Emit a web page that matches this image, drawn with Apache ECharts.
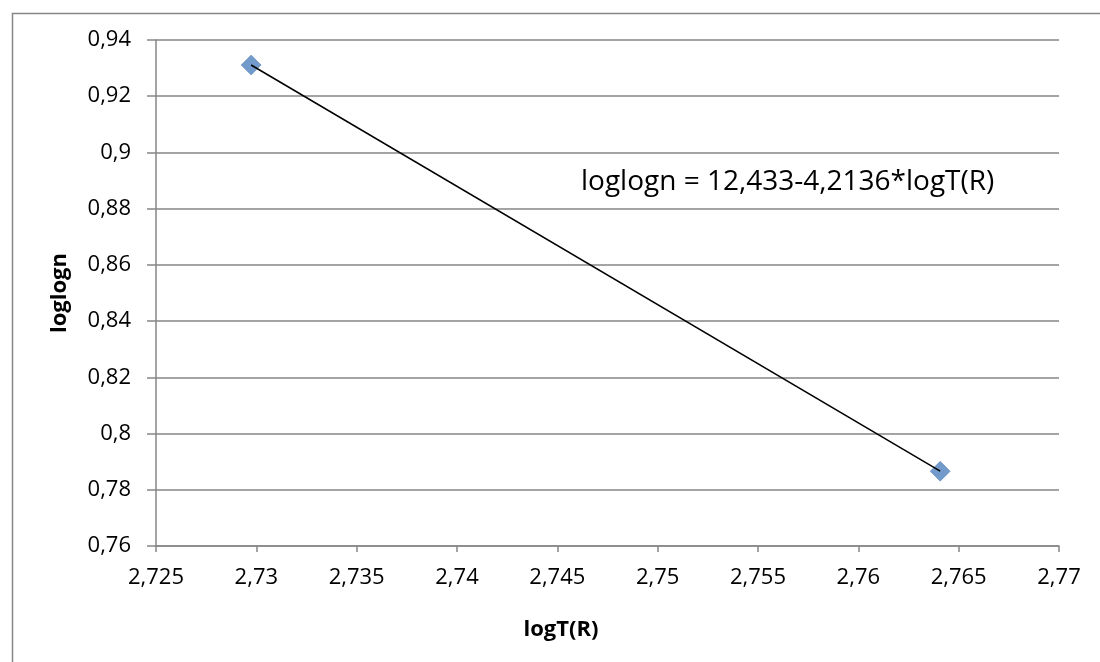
<!DOCTYPE html>
<html>
<head>
<meta charset="utf-8">
<script src="https://cdn.jsdelivr.net/npm/echarts@6/dist/echarts.min.js"></script>
<style>
html,body{margin:0;padding:0;background:#fff;}
#chart{width:1100px;height:662px;}
</style>
</head>
<body>
<div id="chart"></div>
<script>
var xValues = [2.72974, 2.76408];
var yValues = [0.9311, 0.7866];
var xTicks = { min: 2.725, max: 2.77, step: 0.005 };
var yTicks = { min: 0.76, max: 0.94, step: 0.02 };
var xTitle = 'logT(R)';
var yTitle = 'loglogn';
var equation = 'loglogn = 12,433-4,2136*logT(R)';

var pts = xValues.map(function (x, i) { return [x, yValues[i]]; });
function fmt(v) { return String(parseFloat(v.toFixed(4))).replace('.', ','); }
var FONT = 'Open Sans';
var chart = echarts.init(document.getElementById('chart'));
chart.setOption({
  animation: false,
  backgroundColor: '#fff',
  grid: { left: 156, right: 41, top: 40, bottom: 116 },
  xAxis: {
    type: 'value', min: xTicks.min, max: xTicks.max, interval: xTicks.step,
    axisLine: { show: true, lineStyle: { color: '#868686', width: 1.5 } },
    axisTick: { show: true, length: 6, lineStyle: { color: '#868686', width: 1.5 } },
    axisLabel: { formatter: fmt, fontFamily: FONT, fontSize: 22, color: '#000', margin: 21 },
    splitLine: { show: false }
  },
  yAxis: {
    type: 'value', min: yTicks.min, max: yTicks.max, interval: yTicks.step,
    name: yTitle, nameLocation: 'middle', nameGap: 85, nameRotate: 90,
    nameTextStyle: { fontFamily: FONT, fontWeight: 'bold', fontSize: 22, color: '#000' },
    axisLine: { show: true, lineStyle: { color: '#868686', width: 1.5 } },
    axisTick: { show: true, length: 9, lineStyle: { color: '#868686', width: 1.5 } },
    axisLabel: { formatter: fmt, fontFamily: FONT, fontSize: 22, color: '#000', margin: 25 },
    splitLine: { show: true, lineStyle: { color: '#868686', width: 1.5 } }
  },
  graphic: [
    { type: 'rect', left: 10, top: 11, z: -10, shape: { x: 0, y: 0, width: 1200, height: 800 },
      style: { fill: 'none', stroke: '#868686', lineWidth: 1.5 } },
    { type: 'text', left: 581, top: 168, z: 10,
      style: { text: equation, fontFamily: FONT, fontSize: 28, fill: '#000' } },
    { type: 'text', x: 561, y: 630, z: 10,
      style: { text: xTitle, fontFamily: FONT, fontWeight: 'bold', fontSize: 22, fill: '#000',
               align: 'center', verticalAlign: 'middle' } }
  ],
  series: [
    { type: 'scatter', data: pts, symbol: 'diamond', symbolSize: 20, z: 2,
      itemStyle: { color: '#4F81BD', borderColor: '#3F6FA8', borderWidth: 0.5 } },
    { type: 'line', data: pts, showSymbol: false, symbol: 'none', z: 3,
      lineStyle: { color: '#000', width: 1.5 } }
  ]
});
</script>
</body>
</html>
